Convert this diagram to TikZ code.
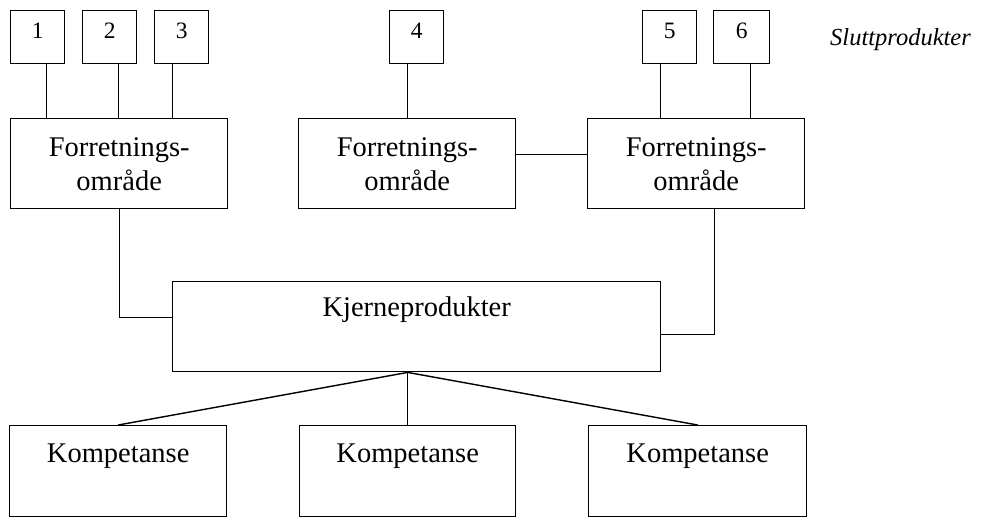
\documentclass[tikz,border=0pt]{standalone}
\usepackage{fontspec}
\setmainfont{Liberation Serif}
\begin{document}
\begin{tikzpicture}[x=1pt, y=-1pt,
  every node/.style={draw=none},
  frame/.style={draw=black, line width=1.4pt, inner sep=0pt, rectangle},
  numbox/.style={frame, minimum width=54pt, text height=28pt, text depth=25pt,
    font=\fontsize{23.5}{27}\selectfont},
  areabox/.style={frame, minimum width=217pt, minimum height=90pt, align=center,
    font=\fontsize{28.5}{34}\selectfont},
  corebox/.style={frame, minimum width=488pt, text height=35pt, text depth=55pt,
    font=\fontsize{28.5}{34}\selectfont},
  compbox/.style={frame, minimum width=217pt, text height=37pt, text depth=54pt,
    font=\fontsize{28.5}{34}\selectfont},
  link/.style={draw=black, line width=1.4pt}]
\useasboundingbox (0,0) rectangle (981,517);

% final products
\node[numbox, anchor=north west] (p1) at (10,10) {1};
\node[numbox, anchor=north west] (p2) at (82,10) {2};
\node[numbox, anchor=north west] (p3) at (154,10) {3};
\node[numbox, anchor=north west] (p4) at (389,10) {4};
\node[numbox, anchor=north west] (p5) at (642,10) {5};
\node[numbox, anchor=north west, minimum width=56pt] (p6) at (713,10) {6};
\node[anchor=base west, inner sep=0pt, font=\fontsize{24.5}{28}\selectfont\itshape]
  (slutt) at (830,45) {Sluttprodukter};

% business areas
\node[areabox, anchor=north west] (F1) at (10,118) {Forretnings-\\område};
\node[areabox, anchor=north west] (F2) at (298,118) {Forretnings-\\område};
\node[areabox, anchor=north west] (F3) at (587,118) {Forretnings-\\område};

% core products
\node[corebox, anchor=north west] (K) at (172,281) {Kjerneprodukter};

% competences
\node[compbox, anchor=north west] (C1) at (9,425) {Kompetanse};
\node[compbox, anchor=north west, minimum width=216pt] (C2) at (299,425) {Kompetanse};
\node[compbox, anchor=north west, minimum width=218pt] (C3) at (588,425) {Kompetanse};

% products to areas
\draw[link] ([xshift=9pt]p1.south) -- ([xshift=9pt]p1.south |- F1.north);
\draw[link] ([xshift=8.5pt]p2.south) -- ([xshift=8.5pt]p2.south |- F1.north);
\draw[link] ([xshift=-9.5pt]p3.south) -- ([xshift=-9.5pt]p3.south |- F1.north);
\draw[link] ([xshift=-9pt]p4.south) -- ([xshift=-9pt]p4.south |- F2.north);
\draw[link] ([xshift=-9pt]p5.south) -- ([xshift=-9pt]p5.south |- F3.north);
\draw[link] ([xshift=9pt]p6.south) -- ([xshift=9pt]p6.south |- F3.north);

% areas among themselves and to the core
\draw[link] ([yshift=9pt]F2.east) -- ([yshift=9pt]F3.west);
\draw[link] (F1.south) |- ([yshift=9pt]K.west);
\draw[link] ([xshift=18pt]F3.south) |- ([yshift=-8pt]K.east);

% core to competences
\draw[link] ([xshift=-9pt]K.south) -- (C1.north);
\draw[link] ([xshift=-9pt]K.south) -- (C2.north);
\draw[link] ([xshift=-9pt]K.south) -- (C3.north);
\end{tikzpicture}
\end{document}
